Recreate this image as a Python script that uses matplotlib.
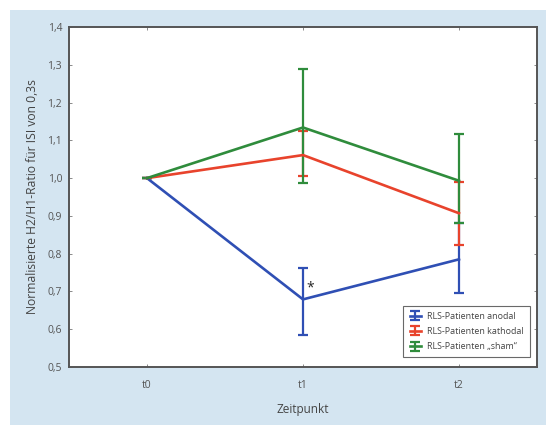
"""Normalisierte H2/H1-Ratio je Zeitpunkt, drei RLS-Gruppen mit Fehlerbalken."""
import numpy as np
import matplotlib
matplotlib.use("Agg")
import matplotlib.pyplot as plt
from matplotlib.patches import Rectangle
from matplotlib.ticker import FuncFormatter

# values
zeitpunkte = ["t0", "t1", "t2"]

anodal_mean = [1.0, 0.679, 0.785]
anodal_low = [1.0, 0.585, 0.695]
anodal_high = [1.0, 0.761, 0.880]

kathodal_mean = [1.0, 1.061, 0.907]
kathodal_low = [1.0, 1.006, 0.823]
kathodal_high = [1.0, 1.124, 0.990]

sham_mean = [1.0, 1.134, 0.993]
sham_low = [1.0, 0.986, 0.880]
sham_high = [1.0, 1.288, 1.116]

labels = ["RLS-Patienten anodal", "RLS-Patienten kathodal",
          "RLS-Patienten \u201esham\u201c"]
colors = ["#2f4fb4", "#e8432c", "#2f8c3c"]

plt.rcParams["font.family"] = ["Open Sans", "DejaVu Sans"]

W, H = 546, 425
fig = plt.figure(figsize=(W / 100, H / 100), dpi=100, facecolor="white")
fig.patches.append(Rectangle((10 / W, 0), 1, (H - 10) / H, transform=fig.transFigure,
                             facecolor="#d4e5f1", edgecolor="none", zorder=-10))

ax = fig.add_axes([69 / W, (H - 367) / H, (537 - 69) / W, (367 - 27) / H])
ax.set_facecolor("white")

x = np.arange(len(zeitpunkte))
series = [(anodal_mean, anodal_low, anodal_high),
          (kathodal_mean, kathodal_low, kathodal_high),
          (sham_mean, sham_low, sham_high)]
handles = []
for (m, lo, hi), c, lab in zip(series, colors, labels):
    m = np.array(m)
    yerr = [m - np.array(lo), np.array(hi) - m]
    h = ax.errorbar(x, m, yerr=yerr, color=c, lw=1.9, elinewidth=1.6,
                    capsize=3.8, capthick=1.6, label=lab)
    handles.append(h)

ax.text(1.045, 0.71, "*", fontsize=10, color="#222222", ha="center", va="center")

ax.set_xlim(-0.5, 2.5)
ax.set_ylim(0.5, 1.4)
ax.set_xticks(x)
ax.set_xticklabels(zeitpunkte)
ax.set_yticks(np.arange(0.5, 1.41, 0.1))
ax.yaxis.set_major_formatter(FuncFormatter(lambda v, p: f"{v:.1f}".replace(".", ",")))
ax.tick_params(direction="in", length=2.5, width=0.6, color="#777777",
               labelsize=7.5, labelcolor="#555555", top=True, right=True)
ax.tick_params(axis="x", pad=9)
ax.tick_params(axis="y", pad=5)

for s in ax.spines.values():
    s.set_color("#555555")
    s.set_linewidth(1.4)

ax.set_xlabel("Zeitpunkt", fontsize=8.5, color="#444444", labelpad=9)
ax.set_ylabel("Normalisierte H2/H1-Ratio für ISI von 0,3s", fontsize=8.7,
              color="#444444", labelpad=6)

leg = ax.legend(handles=handles, loc="lower right", fontsize=6.4, frameon=True,
                fancybox=False, borderpad=0.7, handlelength=1.3, handletextpad=0.7,
                labelspacing=0.7, bbox_to_anchor=(0.995, 0.015))
leg.get_frame().set_edgecolor("#444444")
leg.get_frame().set_linewidth(0.8)
for t in leg.get_texts():
    t.set_color("#444444")

fig.savefig("out.png", dpi=100, facecolor=fig.get_facecolor())
